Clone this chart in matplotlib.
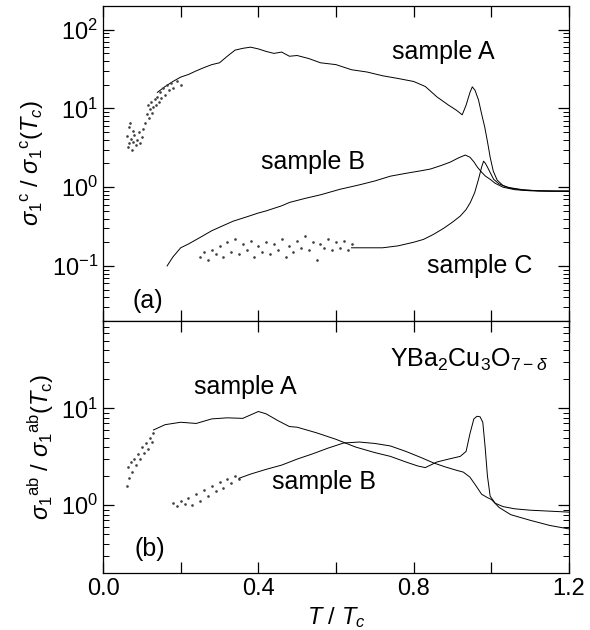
import matplotlib
matplotlib.use("Agg")
from matplotlib import pyplot as plt
from matplotlib.ticker import LogLocator, NullFormatter, FixedLocator

plt.rcParams['font.family'] = ['Liberation Sans', 'DejaVu Sans']
plt.rcParams['mathtext.fontset'] = 'custom'
plt.rcParams['mathtext.rm'] = 'Liberation Sans'
plt.rcParams['mathtext.it'] = 'Liberation Sans:italic'
plt.rcParams['mathtext.bf'] = 'Liberation Sans:bold'

# ---- panel (a): c-axis conductivity ----
a_A_x = [0.14, 0.16, 0.18, 0.2, 0.22, 0.24, 0.26, 0.28, 0.3, 0.32, 0.34, 0.36, 0.38, 0.4,
         0.42, 0.44, 0.46, 0.48, 0.5, 0.53, 0.56, 0.6, 0.64, 0.68, 0.72, 0.76, 0.8, 0.83,
         0.86, 0.89, 0.91, 0.925, 0.935, 0.945, 0.951, 0.958, 0.967, 0.975, 0.983, 0.99,
         0.997, 1.005, 1.015, 1.03, 1.05, 1.08, 1.12, 1.16, 1.2]
a_A_y = [16, 19, 22, 25, 27, 30, 33, 36, 38, 46, 55, 58, 60, 57,
         53, 50, 52, 46, 47, 43, 38, 36, 31, 29, 26, 24, 22, 19,
         14, 11, 9.5, 8.3, 11, 16, 18.8, 17, 12.8, 8.5, 5.8, 3.8,
         2.4, 1.6, 1.23, 1.05, 0.97, 0.92, 0.9, 0.89, 0.89]
a_A_dots_x = [0.062, 0.064, 0.066, 0.068, 0.07, 0.072, 0.074, 0.076, 0.078, 0.08, 0.084,
              0.088, 0.092, 0.096, 0.1, 0.104, 0.108, 0.112, 0.115, 0.118, 0.121, 0.124,
              0.127, 0.13, 0.133, 0.136, 0.14, 0.143, 0.146, 0.15, 0.155, 0.16, 0.165,
              0.17, 0.175, 0.18, 0.19, 0.2]
a_A_dots_y = [4.5, 3.2, 5.8, 3.6, 6.5, 4.1, 3.0, 5.2, 3.8, 4.6, 3.4,
              4.0, 5.0, 3.6, 4.4, 5.5, 6.5, 8.5, 11, 7.6, 9.8, 12,
              8.8, 10.5, 13, 11, 14, 12, 16, 13.5, 18, 15, 20,
              17, 21, 18, 22, 20]

a_B_x = [0.165, 0.18, 0.2, 0.22, 0.25, 0.28, 0.3, 0.335, 0.37, 0.4, 0.42, 0.46, 0.48, 0.52,
         0.56, 0.61, 0.66, 0.7, 0.74, 0.78, 0.82, 0.843, 0.87, 0.894, 0.915, 0.933, 0.945,
         0.955, 0.964, 0.975, 0.985, 0.997, 1.01, 1.03, 1.06, 1.1, 1.15, 1.2]
a_B_y = [0.1, 0.13, 0.17, 0.19, 0.23, 0.28, 0.31, 0.37, 0.42, 0.47, 0.5, 0.58, 0.64, 0.72,
         0.8, 0.94, 1.07, 1.2, 1.38, 1.5, 1.62, 1.7, 1.88, 2.08, 2.35, 2.56, 2.4,
         2.1, 1.8, 1.55, 1.38, 1.26, 1.12, 1.0, 0.93, 0.9, 0.89, 0.89]

a_C_dots_x = [0.25, 0.26, 0.27, 0.28, 0.29, 0.3, 0.31, 0.32, 0.33, 0.34, 0.35, 0.36, 0.37,
              0.38, 0.39, 0.4, 0.41, 0.42, 0.43, 0.44, 0.45, 0.46, 0.47, 0.48, 0.49, 0.5,
              0.51, 0.52, 0.53, 0.54, 0.55, 0.56, 0.57, 0.58, 0.59, 0.6, 0.61, 0.62, 0.63, 0.64]
a_C_dots_y = [0.13, 0.15, 0.12, 0.16, 0.14, 0.18, 0.13, 0.2, 0.15, 0.22, 0.14, 0.19, 0.16,
              0.21, 0.13, 0.18, 0.15, 0.2, 0.14, 0.19, 0.16, 0.22, 0.13, 0.18, 0.15, 0.21,
              0.17, 0.24, 0.16, 0.2, 0.12, 0.19, 0.17, 0.22, 0.16, 0.2, 0.17, 0.21, 0.16, 0.19]
a_C_x = [0.64, 0.68, 0.72, 0.76, 0.8, 0.825, 0.85, 0.877, 0.9, 0.92, 0.935, 0.946, 0.957,
         0.967, 0.975, 0.98, 0.985, 0.99, 0.998, 1.006, 1.02, 1.04, 1.08, 1.12, 1.2]
a_C_y = [0.17, 0.17, 0.17, 0.18, 0.2, 0.217, 0.25, 0.3, 0.36, 0.43, 0.52, 0.64, 0.85,
         1.26, 1.8, 2.14, 2.0, 1.8, 1.5, 1.26, 1.1, 1.0, 0.93, 0.9, 0.89]

# ---- panel (b): ab-plane conductivity ----
b_A_x = [0.13, 0.16, 0.2, 0.24, 0.28, 0.32, 0.36, 0.4, 0.42, 0.45, 0.48, 0.5, 0.55, 0.6,
         0.65, 0.7, 0.74, 0.78, 0.81, 0.83, 0.86, 0.89, 0.92, 0.935, 0.945, 0.955, 0.963,
         0.971, 0.978, 0.984, 0.99, 0.997, 1.01, 1.03, 1.06, 1.1, 1.15, 1.2]
b_A_y = [6.0, 6.8, 7.2, 7.0, 7.8, 8.0, 7.9, 9.3, 8.8, 7.5, 6.5, 6.4, 5.6, 4.8,
         4.0, 3.5, 3.2, 2.8, 2.55, 2.45, 2.8, 3.0, 3.2, 3.6, 5.5, 7.8, 8.3,
         8.2, 7.2, 4.0, 2.0, 1.24, 1.05, 0.97, 0.92, 0.89, 0.87, 0.85]
b_A_dots_x = [0.062, 0.065, 0.068, 0.072, 0.075, 0.08, 0.085, 0.09, 0.095, 0.1, 0.105,
              0.11, 0.115, 0.12, 0.125, 0.13]
b_A_dots_y = [1.6, 2.5, 1.9, 2.8, 2.2, 3.0, 2.6, 3.4, 3.0, 4.0, 3.5,
              4.4, 3.8, 5.0, 4.5, 5.6]

b_B_dots_x = [0.18, 0.19, 0.2, 0.21, 0.22, 0.23, 0.24, 0.25, 0.26, 0.27, 0.28, 0.29,
              0.3, 0.31, 0.32, 0.33, 0.34, 0.35]
b_B_dots_y = [1.05, 0.98, 1.1, 1.02, 1.2, 1.0, 1.3, 1.1, 1.45, 1.25, 1.6, 1.4,
              1.75, 1.5, 1.85, 1.7, 2.0, 1.85]
b_B_x = [0.35, 0.38, 0.42, 0.46, 0.5, 0.54, 0.58, 0.62, 0.66, 0.7, 0.74, 0.78, 0.82, 0.85,
         0.88, 0.91, 0.928, 0.945, 0.96, 0.975, 0.99, 1.0, 1.02, 1.05, 1.1, 1.15, 1.2]
b_B_y = [1.9, 2.1, 2.35, 2.6, 3.0, 3.4, 3.9, 4.4, 4.5, 4.35, 4.1, 3.6, 3.1, 2.75,
         2.5, 2.3, 2.2, 1.95, 1.6, 1.3, 1.2, 1.15, 0.95, 0.8, 0.7, 0.62, 0.57]

x_ticks = [0.0, 0.2, 0.4, 0.6, 0.8, 1.0, 1.2]
x_ticklabels = ['0.0', '', '0.4', '', '0.8', '', '1.2']


def set_up(ax, ylim):
    ax.set_xlim(0, 1.2)
    ax.set_yscale('log')
    ax.set_ylim(*ylim)
    ax.xaxis.set_major_locator(FixedLocator(x_ticks))
    ax.yaxis.set_minor_locator(LogLocator(base=10, subs=range(2, 10), numticks=20))
    ax.yaxis.set_minor_formatter(NullFormatter())
    ax.tick_params(which='both', direction='in', top=True, right=True, labelsize=17)
    ax.tick_params(which='major', length=8, width=0.9)
    ax.tick_params(which='minor', length=4, width=0.7)
    for s in ax.spines.values():
        s.set_linewidth(0.9)


fig = plt.figure(figsize=(5.9, 6.3), dpi=100)
ax1 = fig.add_axes([0.1746, 0.4905, 0.7898, 0.5])
ax2 = fig.add_axes([0.1746, 0.0905, 0.7898, 0.4])

lw = 0.7
ms = 0.9
dot_c = '0.25'
ax1.plot(a_A_x, a_A_y, color='k', lw=lw)
ax1.plot(a_A_dots_x, a_A_dots_y, ls='none', marker='o', ms=ms, color=dot_c)
ax1.plot(a_B_x, a_B_y, color='k', lw=lw)
ax1.plot(a_C_dots_x, a_C_dots_y, ls='none', marker='o', ms=ms, color=dot_c)
ax1.plot(a_C_x, a_C_y, color='k', lw=lw)

ax2.plot(b_A_x, b_A_y, color='k', lw=lw)
ax2.plot(b_A_dots_x, b_A_dots_y, ls='none', marker='o', ms=ms, color=dot_c)
ax2.plot(b_B_dots_x, b_B_dots_y, ls='none', marker='o', ms=ms, color=dot_c)
ax2.plot(b_B_x, b_B_y, color='k', lw=lw)

set_up(ax1, (0.02, 200))
set_up(ax2, (0.2, 80))
ax1.tick_params(labelbottom=False)
ax2.set_xticklabels(x_ticklabels)

fs = 18
ax1.text(0.876, 52, 'sample A', fontsize=fs, ha='center', va='center')
ax1.text(0.54, 2.08, 'sample B', fontsize=fs, ha='center', va='center')
ax1.text(0.97, 0.1, 'sample C', fontsize=fs, ha='center', va='center')
ax1.text(0.115, 0.036, '(a)', fontsize=fs, ha='center', va='center')

ax2.text(0.366, 16.5, 'sample A', fontsize=fs, ha='center', va='center')
ax2.text(0.57, 1.73, 'sample B', fontsize=fs, ha='center', va='center')
ax2.text(0.74, 32, r'YBa$_2$Cu$_3$O$_{7-\delta}$', fontsize=fs, ha='left', va='center')
ax2.text(0.121, 0.35, '(b)', fontsize=fs, ha='center', va='center')

ax1.set_ylabel(r'$\sigma_1{}^{\rm c}$ / $\sigma_1{}^{\rm c}(T_c)$', fontsize=17)
ax2.set_ylabel(r'$\sigma_1{}^{\rm ab}$ / $\sigma_1{}^{\rm ab}(T_{\rm c})$', fontsize=17)
ax2.set_xlabel(r'$T$ / $T_c$', fontsize=17)

fig.savefig('out.png', dpi=100)
